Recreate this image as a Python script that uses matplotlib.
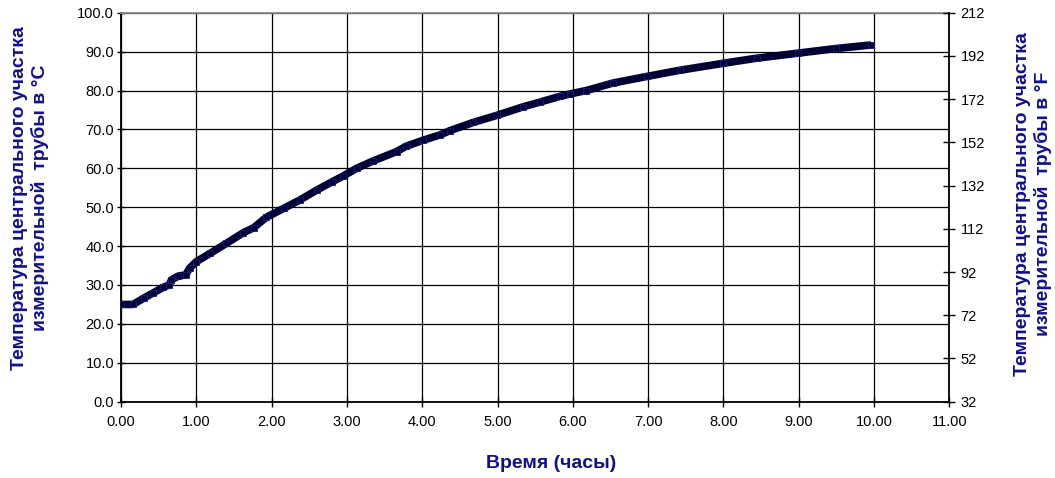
import matplotlib
matplotlib.use("Agg")
import matplotlib.pyplot as plt
import numpy as np

plt.rcParams['font.family'] = ['Liberation Sans', 'DejaVu Sans']

# Data
time_h = [0.00, 0.16, 0.30, 0.43, 0.56, 0.64, 0.67, 0.76, 0.86, 0.91, 1.00, 1.18,
          1.40, 1.62, 1.76, 1.93, 2.16, 2.38, 2.60, 2.80, 2.95, 3.13, 3.35, 3.66,
          3.79, 4.01, 4.24, 4.37, 4.68, 4.99, 5.34, 5.56, 5.83, 5.96, 6.18, 6.53,
          6.98, 7.42, 8.00, 8.44, 8.99, 9.50, 9.96]
temp_c = [25.0, 25.0, 26.6, 28.0, 29.4, 30.0, 31.3, 32.3, 32.6, 34.3, 36.0, 38.1,
          40.7, 43.4, 44.7, 47.4, 49.7, 51.9, 54.4, 56.5, 58.0, 60.0, 61.9, 64.3,
          65.7, 67.2, 68.6, 69.7, 71.8, 73.6, 75.8, 77.0, 78.5, 79.1, 80.0, 81.9,
          83.6, 85.2, 87.0, 88.3, 89.6, 90.8, 91.7]

x_ticks = [0, 1, 2, 3, 4, 5, 6, 7, 8, 9, 10, 11]
y_ticks_c = [0, 10, 20, 30, 40, 50, 60, 70, 80, 90, 100]
y_ticks_f = [32, 52, 72, 92, 112, 132, 152, 172, 192, 212]

xlabel = "Время (часы)"
ylabel_c = "Температура центрального участка\nизмерительной  трубы в °C"
ylabel_f = "Температура центрального участка\nизмерительной  трубы в °F"

label_color = '#10108a'
line_color = '#000033'

fig = plt.figure(figsize=(10.55, 4.78), dpi=100)
ax = fig.add_axes([121/1055, 1-401.7/478, (949.3-121)/1055, (401.7-12.7)/478])

ax.plot(time_h, temp_c, color=line_color, lw=5.5, solid_capstyle='butt',
        solid_joinstyle='round',
        marker='s', markersize=4, markeredgecolor='#1a1a80', markeredgewidth=0.6,
        zorder=3)

ax.set_xlim(0, 11)
ax.set_ylim(0, 100)
ax.set_xticks(x_ticks)
ax.set_xticklabels([f"{v:.2f}" for v in x_ticks])
ax.set_yticks(y_ticks_c)
ax.set_yticklabels([f"{v:.1f}" for v in y_ticks_c])
ax.grid(True, color='black', lw=0.9)
ax.tick_params(axis='x', direction='inout', length=7, width=1, labelsize=10.5, pad=6)
ax.tick_params(axis='y', direction='inout', length=6, width=1, labelsize=10.5, pad=2)
for s in ['left', 'bottom']:
    ax.spines[s].set_linewidth(1.3)
ax.spines['top'].set_color('#888888')
ax.spines['top'].set_linewidth(1.3)
ax.spines['right'].set_visible(False)

ax2 = ax.twinx()
ax2.set_ylim(32, 212)
ax2.set_yticks(y_ticks_f)
ax2.tick_params(axis='y', direction='inout', length=8, width=1, labelsize=10.5, pad=4)
ax2.spines['right'].set_linewidth(1.3)
for s in ['left', 'top', 'bottom']:
    ax2.spines[s].set_visible(False)

fig.text(551/1055, 1-463/478, xlabel, ha='center', va='center',
         fontsize=14, fontweight='bold', color=label_color)
fig.text(30/1055, 1-198/478, ylabel_c, rotation=90, ha='center', va='center',
         fontsize=14, fontweight='bold', color=label_color, linespacing=1.2)
fig.text(1033/1055, 1-204/478, ylabel_f, rotation=90, ha='center', va='center',
         fontsize=14, fontweight='bold', color=label_color, linespacing=1.25)

fig.savefig("out.png", dpi=100)
